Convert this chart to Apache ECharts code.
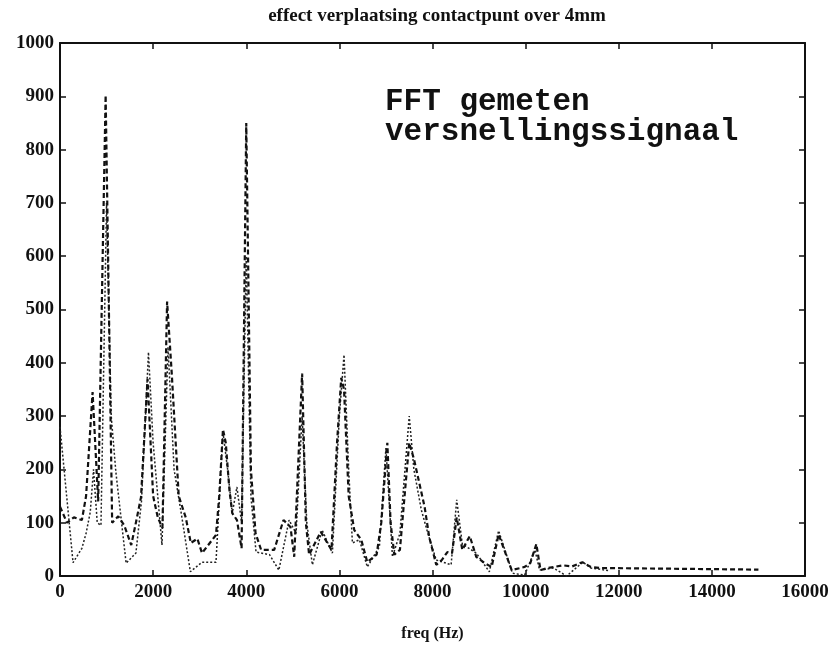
<!DOCTYPE html>
<html>
<head>
<meta charset="utf-8">
<script src="https://cdn.jsdelivr.net/npm/echarts@6/dist/echarts.min.js"></script>
<style>html,body{margin:0;padding:0;background:#fff}#c{width:835px;height:650px}</style>
</head>
<body>
<div id="c"></div>
<script>
// dashed series (thick)
var freqA = [0,150,300,470,560,700,820,980,1120,1250,1380,1530,1630,1740,1880,2000,2100,2200,2300,2400,2550,2700,2810,2950,3050,3350,3420,3500,3560,3640,3700,3800,3900,4000,4100,4200,4320,4600,4800,4950,5030,5200,5280,5350,5600,5830,5950,6040,6100,6200,6320,6470,6600,6800,6900,7030,7100,7180,7300,7400,7500,7600,7830,7930,8080,8200,8320,8420,8520,8640,8800,8940,9120,9270,9420,9700,9980,10100,10230,10320,10470,10800,11000,11220,11400,11600,15000];
var magA  = [130,100,110,105,150,345,140,902,100,112,95,58,100,148,370,150,110,90,515,380,150,110,62,70,43,77,150,275,250,160,118,105,52,850,200,80,49,49,105,92,36,380,100,40,83,49,250,372,350,150,86,68,26,40,100,250,100,40,49,150,250,220,130,73,21,30,45,43,110,49,75,36,24,17,78,11,17,24,60,11,15,20,18,26,17,15,12];
// dotted series (thin)
var freqB = [0,280,470,560,650,720,800,880,1000,1100,1200,1420,1630,1750,1900,2000,2190,2320,2450,2600,2800,3050,3350,3500,3600,3700,3800,3900,4000,4100,4210,4500,4700,4920,5070,5200,5300,5420,5630,5850,6000,6100,6200,6280,6430,6600,6860,7000,7140,7300,7500,7600,7760,7900,8080,8400,8520,8640,8940,9220,9420,9720,9980,10200,10300,10600,10880,11230,11400,11800];
var magB  = [280,25,52,80,120,200,100,95,700,300,195,24,43,140,420,250,58,430,200,120,8,26,26,270,200,118,167,100,600,150,45,40,11,105,80,300,100,21,86,43,300,415,200,62,68,17,55,240,36,80,300,200,124,80,30,21,143,60,43,8,85,5,2,49,11,15,0,26,15,10];
var xTicks = [0,2000,4000,6000,8000,10000,12000,14000,16000];
var yTicks = [0,100,200,300,400,500,600,700,800,900,1000];
var titleText = 'effect verplaatsing contactpunt over 4mm';
var noteLines = ['FFT gemeten', 'versnellingssignaal'];
var xName = 'freq (Hz)';

function pairs(xs, ys){ return xs.map(function(x,i){ return [x, ys[i]]; }); }
function plain(v){ return String(v); }

var chart = echarts.init(document.getElementById('c'), null, {renderer:'canvas'});
var lab = {fontFamily:'Liberation Serif', fontSize:19, fontWeight:'bold', color:'#111', formatter:plain};
var axLine = {show:true, onZero:false, lineStyle:{color:'#111', width:2}};
var tick = {show:true, inside:true, length:6, lineStyle:{color:'#111', width:1.5}};
chart.setOption({
  animation:false,
  backgroundColor:'#fff',
  title:{text:titleText, left:432, top:2, textAlign:'center',
    textStyle:{fontFamily:'Liberation Serif', fontSize:19, fontWeight:'bold', color:'#111'}},
  grid:{left:60, right:30, top:43, bottom:74, containLabel:false},
  xAxis:[
    {type:'value', min:0, max:16000, interval:2000, position:'bottom',
     axisLine:axLine, axisTick:tick, splitLine:{show:false},
     axisLabel:Object.assign({margin:7}, lab),
     name:xName, nameLocation:'middle', nameGap:50,
     nameTextStyle:{fontFamily:'Liberation Serif', fontSize:16, fontWeight:'bold', color:'#111'}},
    {type:'value', min:0, max:16000, interval:2000, position:'top',
     axisLine:axLine, axisTick:tick, splitLine:{show:false}, axisLabel:{show:false}}
  ],
  yAxis:[
    {type:'value', min:0, max:1000, interval:100, position:'left',
     axisLine:axLine, axisTick:tick, splitLine:{show:false},
     axisLabel:Object.assign({margin:6}, lab)},
    {type:'value', min:0, max:1000, interval:100, position:'right',
     axisLine:axLine, axisTick:tick, splitLine:{show:false}, axisLabel:{show:false}}
  ],
  graphic:[
    {type:'text', left:385, top:87, style:{text:noteLines[0], font:'bold 31px "Liberation Mono"', fill:'#111'}},
    {type:'text', left:385, top:117, style:{text:noteLines[1], font:'bold 31px "Liberation Mono"', fill:'#111'}}
  ],
  series:[
    {type:'line', data:pairs(freqB, magB), symbol:'none', xAxisIndex:0, yAxisIndex:0,
     lineStyle:{color:'#222', width:1.5, type:[2,2]}, z:2},
    {type:'line', data:pairs(freqA, magA), symbol:'none', xAxisIndex:0, yAxisIndex:0,
     lineStyle:{color:'#111', width:2.2, type:[5,3]}, z:3}
  ]
});
</script>
</body>
</html>
